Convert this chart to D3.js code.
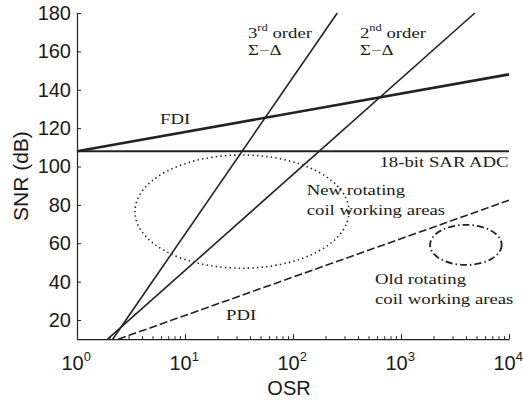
<!DOCTYPE html>
<html>
<head>
<meta charset="utf-8">
<script src="https://cdn.jsdelivr.net/npm/d3@7"></script>
<style>
  body { margin: 0; background: #fff; }
  .tick text { font-family: "Liberation Sans", Arial, sans-serif; font-size: 20px; fill: #1a1a1a; }
  .note { font-family: "Liberation Serif", "Times New Roman", serif; font-size: 15px; fill: #1a1a1a; }
  .title { font-family: "Liberation Sans", Arial, sans-serif; font-size: 20px; fill: #1a1a1a; }
</style>
</head>
<body>
<div id="chart"></div>
<script>
// data: [OSR, SNR dB] end points of each straight line (log x)
var sarSNR = 108;
var fdiLine = [[1, 108], [10000, 148]];
var sd2Line = [[1.92, 10], [4830, 180]];
var sd3Line = [[2.14, 10], [257, 180]];
var pdiLine = [[2.41, 10], [10000, 82.4]];

// working areas: bounding boxes [osrMin, osrMax], [snrMin, snrMax]
var newAreaOSR = [3.44, 330];
var newAreaSNR = [47, 106];
var oldAreaOSR = [1858, 8551];
var oldAreaSNR = [48.7, 69.6];

var xTickExp = [0, 1, 2, 3, 4];
var yTicks = [20, 40, 60, 80, 100, 120, 140, 160, 180];

// annotations in data coordinates
var notes = [
    {osr: 38.3, snr: 167.1, text: "3", sup: "rd", after: " order"},
    {osr: 38.3, snr: 158.3, text: "\u03A3\u2212\u0394"},
    {osr: 417, snr: 167.1, text: "2", sup: "nd", after: " order"},
    {osr: 417, snr: 158.3, text: "\u03A3\u2212\u0394"},
    {osr: 5.87, snr: 122.3, text: "FDI"},
    {osr: 632, snr: 99.8, text: "18-bit SAR ADC"},
    {osr: 134, snr: 85.2, text: "New rotating"},
    {osr: 134, snr: 74.8, text: "coil working areas"},
    {osr: 574, snr: 38.8, text: "Old rotating"},
    {osr: 574, snr: 28.4, text: "coil working areas"},
    {osr: 24, snr: 20.0, text: "PDI"}
];

var width = 523, height = 400;
var margin = {top: 13, right: 14, bottom: 61, left: 77};

var svg = d3.select("#chart").append("svg")
    .attr("width", width)
    .attr("height", height);

var x = d3.scaleLog().domain([1, 10000]).range([margin.left, width - margin.right]);
var y = d3.scaleLinear().domain([10, 180]).range([height - margin.bottom + 0.2, margin.top]);

var ink = "#222";

//y axis, ticks pointing inside
svg.append("g")
    .attr("transform", "translate(" + margin.left + ",0)")
    .call(d3.axisLeft(y).tickValues(yTicks).tickSizeInner(-4).tickSizeOuter(0).tickPadding(6))
    .call(function(g){
        g.select(".domain").attr("stroke", ink).attr("stroke-width", 1.2);
        g.selectAll(".tick line").attr("stroke", ink);
    });

//x axis: major and minor ticks
var minor = [];
xTickExp.forEach(function(e){
    if (e < 4) {
        for (var m = 2; m < 10; m++) minor.push(m * Math.pow(10, e));
    }
});
var xAxisY = y(10);
svg.append("g")
    .attr("transform", "translate(0," + xAxisY + ")")
    .call(d3.axisBottom(x).tickValues(minor).tickSizeInner(-3).tickSizeOuter(0).tickFormat(""))
    .call(function(g){
        g.select(".domain").remove();
        g.selectAll(".tick line").attr("stroke", ink);
    });
svg.append("g")
    .attr("transform", "translate(0," + xAxisY + ")")
    .call(d3.axisBottom(x).tickValues(xTickExp.map(function(e){ return Math.pow(10, e); }))
        .tickSizeInner(-5).tickSizeOuter(0).tickFormat(""))
    .call(function(g){
        g.select(".domain").attr("stroke", ink).attr("stroke-width", 1.2);
        g.selectAll(".tick line").attr("stroke", ink);
    });

var xl = svg.append("g").selectAll("text").data(xTickExp).enter().append("text")
    .attr("class", "title")
    .attr("x", function(d){ return x(Math.pow(10, d)) - 15.5; })
    .attr("y", xAxisY + 31);
xl.append("tspan").text("10");
xl.append("tspan").attr("dy", -9).style("font-size", "13px").text(function(d){ return d; });

//axis titles
svg.append("text").attr("class", "title")
    .attr("text-anchor", "middle")
    .attr("x", (x.range()[0] + x.range()[1]) / 2 - 4)
    .attr("y", xAxisY + 56)
    .text("OSR");
svg.append("text").attr("class", "title")
    .attr("text-anchor", "middle")
    .style("font-size", "21px")
    .attr("transform", "translate(28," + ((y.range()[0] + y.range()[1]) / 2) + ") rotate(-90)")
    .text("SNR (dB)");

var line = d3.line()
    .x(function(d){ return x(d[0]); })
    .y(function(d){ return y(d[1]); });

var plot = svg.append("g").attr("fill", "none").attr("stroke", ink);

plot.append("path").datum([[1, sarSNR], [10000, sarSNR]]).attr("d", line).attr("stroke-width", 2);
plot.append("path").datum(fdiLine).attr("d", line).attr("stroke-width", 2.6);
plot.append("path").datum(sd3Line).attr("d", line).attr("stroke-width", 1.6);
plot.append("path").datum(sd2Line).attr("d", line).attr("stroke-width", 1.6);
plot.append("path").datum(pdiLine).attr("d", line).attr("stroke-width", 1.6)
    .attr("stroke-dasharray", "8,3");

function drawArea(osr, snr, dash, w){
    plot.append("ellipse")
        .attr("cx", (x(osr[0]) + x(osr[1])) / 2)
        .attr("cy", (y(snr[0]) + y(snr[1])) / 2)
        .attr("rx", (x(osr[1]) - x(osr[0])) / 2)
        .attr("ry", (y(snr[0]) - y(snr[1])) / 2)
        .attr("stroke-width", w)
        .attr("stroke-dasharray", dash);
}
drawArea(newAreaOSR, newAreaSNR, "1.4,3.2", 1.6);
drawArea(oldAreaOSR, oldAreaSNR, "7,3,1.5,3", 1.8);

//serif notes, glyphs stretched horizontally like the original
var nt = svg.append("g").selectAll("text").data(notes).enter().append("text")
    .attr("class", "note")
    .attr("transform", function(d){ return "translate(" + x(d.osr) + "," + y(d.snr) + ") scale(1.25,1)"; });
nt.append("tspan").text(function(d){ return d.text; });
nt.filter(function(d){ return d.sup; }).append("tspan")
    .attr("dy", -7).style("font-size", "10px").text(function(d){ return d.sup; });
nt.filter(function(d){ return d.after; }).append("tspan")
    .attr("dy", 7).text(function(d){ return d.after; });
</script>
</body>
</html>
